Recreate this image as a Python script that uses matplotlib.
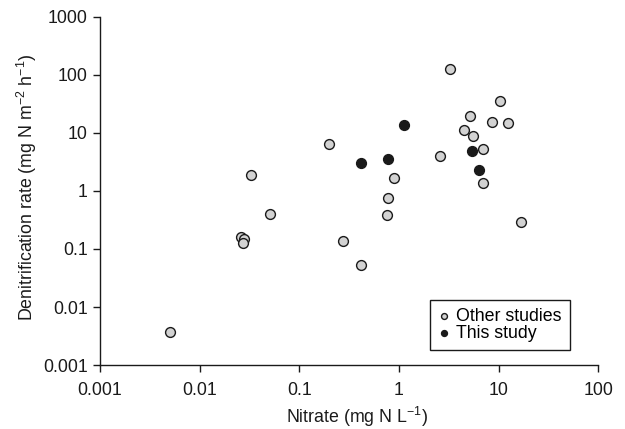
import matplotlib.pyplot as plt

plt.rcParams['font.family'] = ['Liberation Sans', 'DejaVu Sans']
plt.rcParams['mathtext.default'] = 'regular'

# Other studies: nitrate (mg N/L), denitrification rate (mg N m-2 h-1)
other_nitrate = [0.0050, 0.0261, 0.0281, 0.0271, 0.0328, 0.051, 0.199, 0.277,
                 0.417, 0.78, 0.767, 0.895, 2.57, 3.27, 4.55, 5.2, 5.56, 6.95,
                 6.95, 8.57, 10.3, 12.4, 16.7]
other_rate = [0.0037, 0.162, 0.148, 0.128, 1.87, 0.40, 6.4, 0.138,
              0.052, 0.745, 0.384, 1.64, 3.94, 124, 11.0, 19.2, 8.9, 5.26,
              1.36, 15.5, 35.7, 14.8, 0.287]

# This study
this_nitrate = [0.414, 0.78, 1.13, 5.43, 6.33]
this_rate = [3.02, 3.54, 13.5, 4.85, 2.26]

FS = 12.8
ink = "#1a1a1a"

fig = plt.figure(figsize=(6.25, 4.29), dpi=100)
ax = fig.add_axes([0.16, 0.149, 0.797, 0.812])

ax.scatter(other_nitrate, other_rate, s=50, facecolor="#d2d2d2", edgecolor=ink,
           linewidth=1.0, label="Other studies", zorder=3)
ax.scatter(this_nitrate, this_rate, s=50, facecolor=ink, edgecolor=ink,
           linewidth=1.0, label="This study", zorder=3)

ax.set_xscale("log")
ax.set_yscale("log")
ax.set_xlim(0.001, 100)
ax.set_ylim(0.001, 1000)

xticks = [0.001, 0.01, 0.1, 1, 10, 100]
xlabels = ["0.001", "0.01", "0.1", "1", "10", "100"]
yticks = [0.001, 0.01, 0.1, 1, 10, 100, 1000]
ylabels = ["0.001", "0.01", "0.1", "1", "10", "100", "1000"]
ax.set_xticks(xticks)
ax.set_xticklabels(xlabels)
ax.set_yticks(yticks)
ax.set_yticklabels(ylabels)
ax.minorticks_off()

ax.spines["top"].set_visible(False)
ax.spines["right"].set_visible(False)
for s in ("left", "bottom"):
    ax.spines[s].set_color(ink)
    ax.spines[s].set_linewidth(1.0)
ax.tick_params(direction="out", length=5, width=1.0, color=ink,
               labelsize=FS, labelcolor=ink)
ax.tick_params(axis="x", pad=7)
ax.tick_params(axis="y", pad=4)

ax.set_xlabel("Nitrate (mg N L$^{-1}$)", fontsize=FS, color=ink)
ax.xaxis.set_label_coords(0.515, -0.113)
ax.set_ylabel("Denitrification rate (mg N m$^{-2}$ h$^{-1}$)", fontsize=FS, color=ink)
ax.yaxis.set_label_coords(-0.1225, 0.51)

leg = ax.legend(loc="lower left", bbox_to_anchor=(0.663, 0.043), borderaxespad=0,
                fontsize=FS, markerscale=0.6, handletextpad=0.3, handlelength=0.7,
                borderpad=0.45, labelspacing=0.0, fancybox=False, framealpha=1,
                edgecolor=ink)
leg.get_frame().set_linewidth(1.0)

fig.savefig("out.png", dpi=100)
